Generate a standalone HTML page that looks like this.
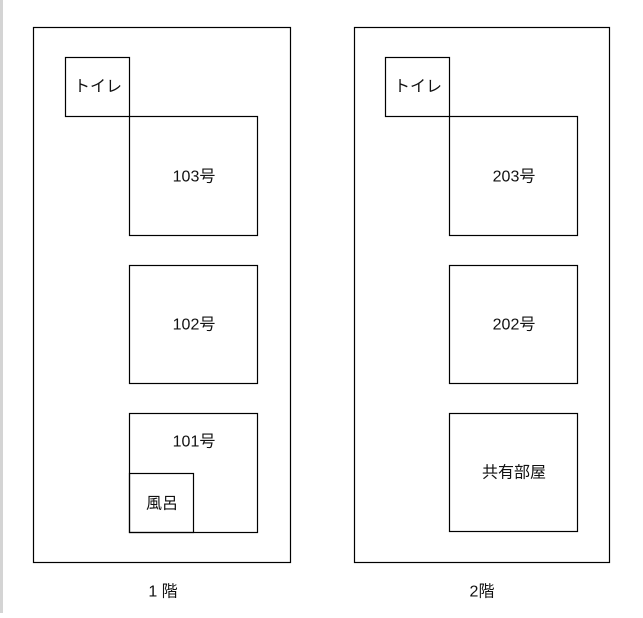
<!DOCTYPE html><html><head><meta charset="utf-8"><style>
body{margin:0;width:643px;height:613px;background:#fff;overflow:hidden}
svg text{font-family:"Liberation Sans","Noto Sans CJK JP",sans-serif;font-size:16px;fill:#111;text-anchor:middle;dominant-baseline:central}
</style></head><body>
<svg width="643" height="613" viewBox="0 0 643 613">
<rect x="0" y="0" width="3" height="613" fill="#d4d4d4"/>
<g fill="none" stroke="#000" stroke-width="1.2">
<rect x="33.5" y="27.5" width="257" height="535"/>
<rect x="65.5" y="57.5" width="64" height="59"/>
<rect x="129.5" y="116.5" width="128" height="119"/>
<rect x="129.5" y="265.5" width="128" height="118"/>
<rect x="129.5" y="413.5" width="128" height="119"/>
<rect x="129.5" y="473.5" width="64" height="59"/>
<rect x="354.5" y="27.5" width="255" height="535"/>
<rect x="385.5" y="57.5" width="64" height="59"/>
<rect x="449.5" y="116.5" width="128" height="119"/>
<rect x="449.5" y="265.5" width="128" height="118"/>
<rect x="449.5" y="413.5" width="128" height="118"/>
</g>
<text x="98" y="87">トイレ</text>
<text x="194" y="177">103号</text>
<text x="194" y="325">102号</text>
<text x="194" y="442">101号</text>
<text x="162" y="504">風呂</text>
<text x="418" y="87">トイレ</text>
<text x="514" y="177">203号</text>
<text x="514" y="325">202号</text>
<text x="514" y="473">共有部屋</text>
<text x="163" y="592">1 階</text>
<text x="482" y="592">2階</text>
</svg></body></html>
